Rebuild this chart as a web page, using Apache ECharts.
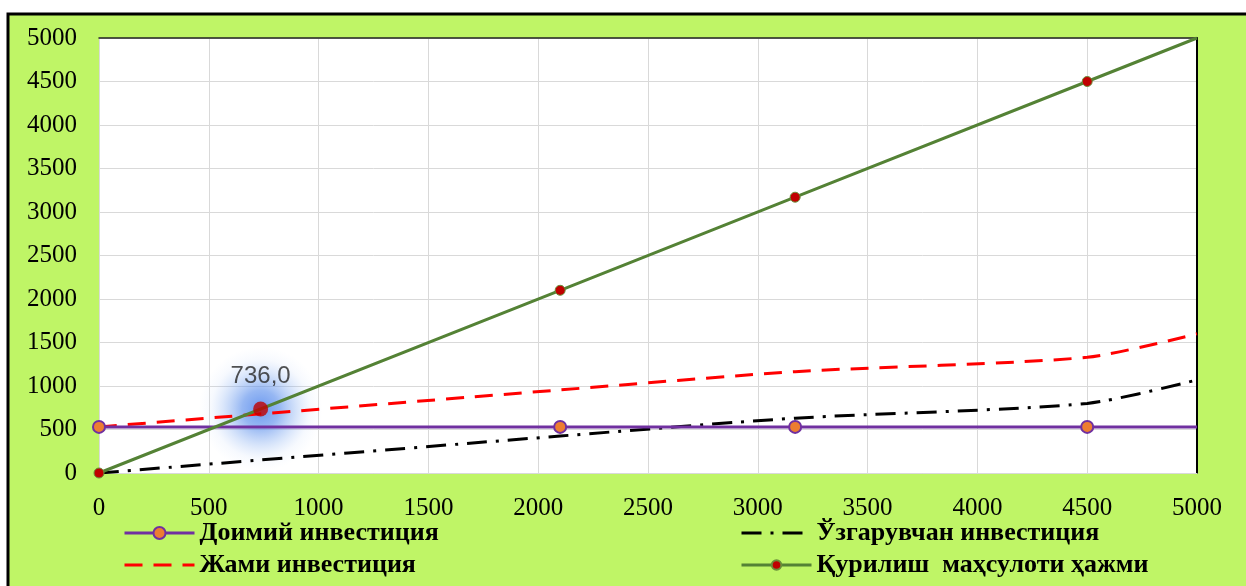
<!DOCTYPE html>
<html>
<head>
<meta charset="utf-8">
<script src="https://cdn.jsdelivr.net/npm/echarts@6/dist/echarts.min.js"></script>
<style>
	html, body { margin: 0; padding: 0; background: #fff; }
	#chart { width: 1246px; height: 586px; }
</style>
</head>
<body>
<div id="chart"></div>
<script>
// x values shared by all lines
var xValues = [0, 2100, 3170, 4500, 5000];
var fixedInv = [530, 530, 530, 530, 530];
var variableInv = [0, 425, 630, 800, 1070];
var totalInv = [530, 955, 1165, 1330, 1600];
var production = [0, 2100, 3170, 4500, 5000];
var breakEven = [736, 736];
var tickLabels = [0, 500, 1000, 1500, 2000, 2500, 3000, 3500, 4000, 4500, 5000];

var serif = 'Liberation Serif';

function pairs(ys, lastNoSymbol) {
	return xValues.map(function (x, i) {
		var item = { value: [x, ys[i]] };
		if (lastNoSymbol && i === xValues.length - 1) item.symbol = 'none';
		return item;
	});
}

var legendText = { fontFamily: serif, fontSize: 26, lineHeight: 26, fontWeight: 'bold', color: '#000' };
var noDot = { color: 'rgba(0,0,0,0)', borderWidth: 0 };

var myChart = echarts.init(document.getElementById('chart'));
var option = {
	backgroundColor: '#fff',
	animation: false,
	graphic: [
		{
			type: 'rect',
			z: -10,
			shape: { x: 8, y: 14, width: 1260, height: 600 },
			style: { fill: '#bff566', stroke: '#000', lineWidth: 3 }
		}
	],
	grid: {
		left: 99,
		right: 49,
		top: 38,
		bottom: 113,
		show: true,
		backgroundColor: '#fff',
		borderWidth: 0
	},
	legend: [
		{
			left: 123,
			top: 520,
			padding: 0,
			orient: 'vertical',
			itemGap: 6,
			itemWidth: 70,
			itemHeight: 15,
			lineStyle: { width: 3 },
			data: [
				{ name: 'Доимий инвестиция' },
				{ name: 'Жами инвестиция', itemStyle: noDot }
			],
			textStyle: legendText
		},
		{
			left: 740,
			top: 520,
			padding: 0,
			orient: 'vertical',
			itemGap: 6,
			itemWidth: 70,
			itemHeight: 12,
			lineStyle: { width: 3 },
			data: [
				{ name: 'Ўзгарувчан инвестиция', itemStyle: noDot },
				{ name: 'Қурилиш  маҳсулоти ҳажми' }
			],
			textStyle: legendText
		}
	],
	xAxis: [
		{
			type: 'value',
			min: 0,
			max: 5000,
			interval: 500,
			axisLine: { show: true, onZero: false, lineStyle: { color: '#d9d9d9', width: 1 } },
			axisTick: { show: false },
			splitLine: { show: true, lineStyle: { color: '#d9d9d9', width: 1 } },
			axisLabel: {
				margin: 23,
				fontFamily: serif,
				fontSize: 25,
				color: '#000',
				formatter: function (v) { return tickLabels.indexOf(v) >= 0 ? String(v) : ''; }
			}
		},
		{
			type: 'value',
			position: 'top',
			min: 0,
			max: 5000,
			axisLine: { show: true, onZero: false, lineStyle: { color: '#222', width: 1.5 } },
			axisTick: { show: false },
			axisLabel: { show: false },
			splitLine: { show: false }
		}
	],
	yAxis: [
		{
			type: 'value',
			min: 0,
			max: 5000,
			interval: 500,
			axisLine: { show: true, onZero: false, lineStyle: { color: '#d9d9d9', width: 1 } },
			axisTick: { show: false },
			splitLine: { show: true, lineStyle: { color: '#d9d9d9', width: 1 } },
			axisLabel: {
				margin: 22,
				fontFamily: serif,
				fontSize: 25,
				color: '#000',
				formatter: function (v) { return String(v); }
			}
		},
		{
			type: 'value',
			position: 'right',
			min: 0,
			max: 5000,
			axisLine: { show: true, onZero: false, lineStyle: { color: '#000', width: 2 } },
			axisTick: { show: false },
			axisLabel: { show: false },
			splitLine: { show: false }
		}
	],
	series: [
		{
			// soft blue glow behind the break-even point
			name: 'glow',
			type: 'scatter',
			symbol: 'circle',
			symbolSize: 124,
			z: 1,
			silent: true,
			itemStyle: {
				color: {
					type: 'radial', x: 0.5, y: 0.5, r: 0.5,
					colorStops: [
						{ offset: 0, color: 'rgba(60,120,235,0.95)' },
						{ offset: 0.3, color: 'rgba(80,135,235,0.75)' },
						{ offset: 0.6, color: 'rgba(120,165,240,0.35)' },
						{ offset: 0.8, color: 'rgba(150,185,245,0.1)' },
						{ offset: 1, color: 'rgba(170,200,250,0)' }
					]
				}
			},
			data: [breakEven]
		},
		{
			name: 'Ўзгарувчан инвестиция',
			type: 'line',
			smooth: 0.25,
			symbol: 'none',
			lineStyle: { color: '#000', width: 3, type: [20, 9, 3, 9] },
			itemStyle: { color: '#000' },
			data: pairs(variableInv)
		},
		{
			name: 'Жами инвестиция',
			type: 'line',
			smooth: 0.25,
			symbol: 'none',
			lineStyle: { color: '#ff0000', width: 3, type: [18, 11] },
			itemStyle: { color: '#ff0000' },
			data: pairs(totalInv)
		},
		{
			name: 'Доимий инвестиция',
			type: 'line',
			symbol: 'circle',
			symbolSize: 12,
			lineStyle: { color: '#7030a0', width: 3 },
			itemStyle: { color: '#ed7d31', borderColor: '#7030a0', borderWidth: 2 },
			data: pairs(fixedInv, true)
		},
		{
			name: 'Қурилиш  маҳсулоти ҳажми',
			type: 'line',
			symbol: 'circle',
			symbolSize: 10,
			lineStyle: { color: '#548235', width: 3 },
			itemStyle: { color: '#c00000', borderColor: '#6a8f3a', borderWidth: 1 },
			data: pairs(production, true)
		},
		{
			name: 'break-even',
			type: 'scatter',
			symbol: 'circle',
			symbolSize: 15,
			z: 5,
			itemStyle: { color: '#c00000' },
			label: {
				show: true,
				position: 'top',
				distance: 13,
				fontFamily: 'Liberation Sans',
				fontSize: 24,
				color: '#262626',
				formatter: function (p) { return p.value[1].toFixed(1).replace('.', ','); }
			},
			data: [breakEven]
		}
	]
};
myChart.setOption(option);
</script>
</body>
</html>
